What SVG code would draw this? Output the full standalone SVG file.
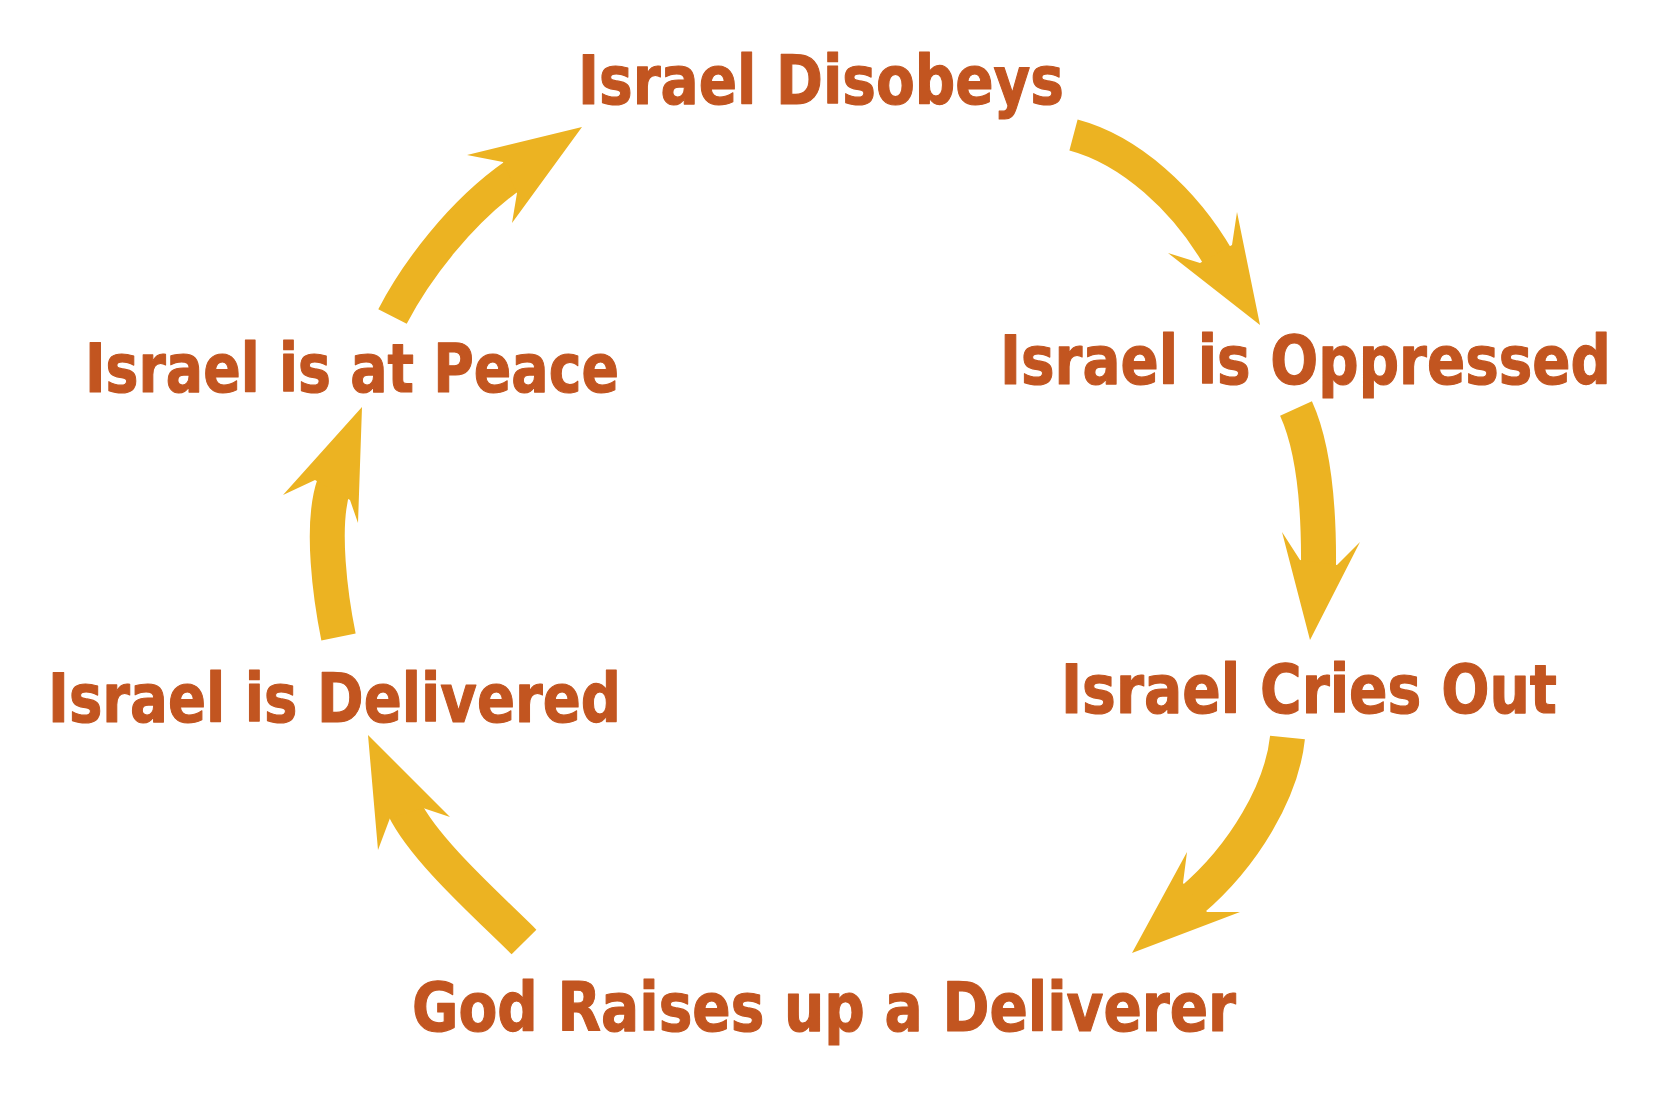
<svg xmlns="http://www.w3.org/2000/svg" width="1664" height="1104" viewBox="0 0 1664 1104">
<style>
.lbl{font-family:"DejaVu Sans","Open Sans",sans-serif;font-weight:700;font-size:67px;fill:#C25520;stroke:#C25520;stroke-width:1.2px;stroke-linejoin:round}
.band{fill:none;stroke:#ECB322;stroke-linecap:butt}
.head{fill:#ECB322}
</style>
<rect width="1664" height="1104" fill="#ffffff"/>
<g id="connectors">
<g id="a1">
<path class="band" stroke-width="32" d="M1073.5,135 C1130,150 1185,200 1219,259"/>
<polygon class="head" points="1168,253 1260,325 1237,212 1232,245 1200,263"/>
</g>
<g id="a2">
<path class="band" stroke-width="35" d="M1296,408.5 C1315,450 1319,510 1318.5,567"/>
<polygon class="head" points="1282,532 1310,640 1360,542 1337,565 1300,560"/>
</g>
<g id="a3">
<path class="band" stroke-width="35" d="M1287.5,737.5 C1282,790 1245,855 1191,901"/>
<polygon class="head" points="1187,852 1132,953 1240,912 1207,912 1183,883"/>
</g>
<g id="a4">
<path class="band" stroke-width="35" d="M524,942 C490,908 425,851 404,808"/>
<polygon class="head" points="450,817 368,735 378,850 390,818 423,808"/>
</g>
<g id="a5">
<path class="band" stroke-width="35" d="M338.5,637 C331,600 320,525 334,485"/>
<polygon class="head" points="283,495 362,407 358,523 350,500 315,480"/>
</g>
<g id="a6">
<path class="band" stroke-width="32" d="M392.5,316.5 C415,273 460,212 515,174"/>
<polygon class="head" points="467,155 582,127 512,223 517,193 503,162"/>
</g>
</g>
<g id="n-disobeys"><text class="lbl" x="578" y="104" textLength="486" lengthAdjust="spacingAndGlyphs">Israel Disobeys</text></g>
<g id="n-oppressed"><text class="lbl" x="1000" y="384" textLength="611" lengthAdjust="spacingAndGlyphs">Israel is Oppressed</text></g>
<g id="n-criesout"><text class="lbl" x="1061" y="713" textLength="496" lengthAdjust="spacingAndGlyphs">Israel Cries Out</text></g>
<g id="n-deliverer"><text class="lbl" x="412" y="1031" textLength="824" lengthAdjust="spacingAndGlyphs">God Raises up a Deliverer</text></g>
<g id="n-delivered"><text class="lbl" x="48" y="722" textLength="573" lengthAdjust="spacingAndGlyphs">Israel is Delivered</text></g>
<g id="n-peace"><text class="lbl" x="85" y="392" textLength="534" lengthAdjust="spacingAndGlyphs">Israel is at Peace</text></g>
</svg>
